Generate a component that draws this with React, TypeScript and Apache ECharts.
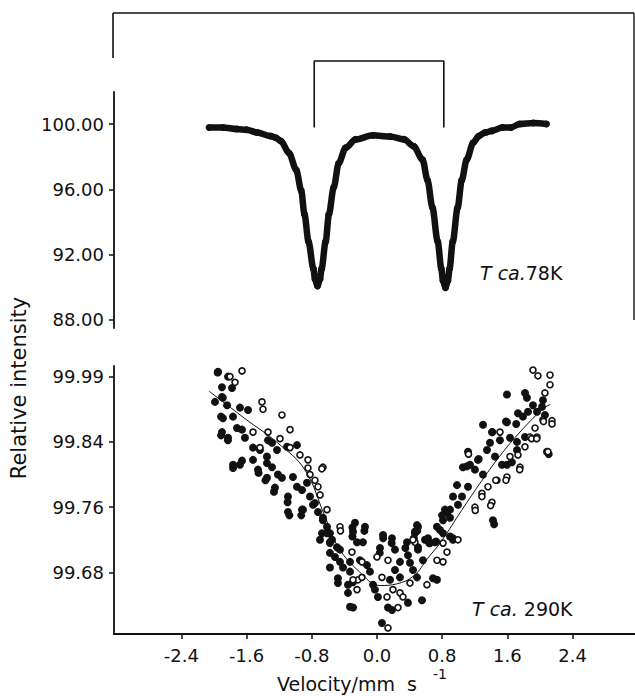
import React, { useEffect, useRef } from "react";
import * as echarts from "echarts";

// ---- axis ticks / labels ----
const xTickValues = [-2.4, -1.6, -0.8, 0, 0.8, 1.6, 2.4];
const topTickValues = [88, 92, 96, 100];
const topTickLabels = ["88.00", "92.00", "96.00", "100.00"];
const bottomTickValues = [99.68, 99.76, 99.84, 99.92];
const bottomTickLabels = ["99.68", "99.76", "99.84", "99.99"];

// ---- top spectrum (T ca. 78 K) ----
const topVelocity = [
  -2.06, -1.89, -1.72, -1.6, -1.47, -1.31, -1.24, -1.18, -1.08, -0.99, -0.93, -0.89, -0.84, -0.78,
  -0.76, -0.73, -0.7, -0.68, -0.63, -0.59, -0.53, -0.47, -0.385, -0.26, -0.05, 0.16, 0.33, 0.45,
  0.56, 0.62, 0.68, 0.745, 0.79, 0.81, 0.84, 0.87, 0.89, 0.93, 0.99, 1.04, 1.1, 1.18, 1.25, 1.33,
  1.41, 1.54, 1.645, 1.75, 1.92, 2.08,
];
const topIntensity = [
  99.79, 99.79, 99.69, 99.65, 99.48, 99.27, 99.16, 98.96, 98.23, 97.18, 95.93, 94.47, 92.8, 91.13,
  90.5, 90.08, 90.5, 91.13, 92.8, 94.47, 96.14, 97.6, 98.54, 99.06, 99.31, 99.23, 99.06, 98.64,
  97.81, 96.56, 94.89, 92.8, 91.13, 90.4, 89.98, 90.4, 91.13, 92.8, 94.89, 96.56, 97.81, 98.85,
  99.27, 99.48, 99.58, 99.79, 99.79, 100.0, 100.06, 100.0,
];
const bracketVelocity = [-0.77, -0.77, 0.82, 0.82];
const bracketIntensity = [99.79, 103.86, 103.86, 99.79];

// ---- bottom spectrum (T ca. 290 K) ----
const filledVelocity = [
  -1.926, -1.865, -1.951, -1.828, -1.902, -1.779, -1.988, -1.902, -1.84, -1.681, -1.583, -1.89,
  -1.767, -1.718, -1.656, -1.902, -1.828, -1.62, -1.521, -1.436, -1.35, -1.337, -1.288, -1.227,
  -1.104, -0.982, -1.767, -1.656, -1.521, -1.46, -1.35, -1.288, -1.215, -1.166, -1.35, -1.252,
  -1.031, -0.982, -0.92, -0.859, -1.092, -0.822, -0.761, -0.92, -1.092, -0.724, -0.663, -0.613,
  -0.675, -0.577, -0.577, -0.699, -0.908, -0.785, -0.663, -0.613, -0.552, -0.577, -0.515, -0.454,
  -0.454, -0.417, -0.577, -0.331, -0.479, -0.479, -0.356, -0.356, -0.294, -0.27, -0.294, -0.147,
  -0.245, -0.172, -0.209, -0.123, -0.086, -0.049, -0.025, 0.012, 0.074, 0.184, 0.037, 0.221, 0.368,
  0.38, 0.282, 0.221, 0.16, 0.282, 0.405, 0.442, 0.503, 0.466, 0.589, 0.65, 0.503, 0.564, 0.491,
  0.687, 0.736, 0.773, 0.81, 0.859, 0.896, 0.933, -0.331, -0.294, 0.135, 0.184, 0.061, 0.552, 0.38,
  -0.577, -0.491, -0.331, 1.595, 1.816, 1.84, 1.914, 2.037, 2.025, 1.963, 1.853, 1.791, 2.061,
  1.595, 1.73, 1.301, 1.411, 1.509, 1.632, 1.718, 1.816, 1.387, 1.35, 1.448, 1.534, 1.718, 1.117,
  1.239, 1.141, 1.055, 1.202, 1.301, 0.982, 1.117, 1.043, 0.933, 0.994, 0.896, 0.834, 0.798, 0.896,
  0.736, 0.81, 0.491, 0.466, 0.626, 1.423, 2.086, 0.503, 0.712, 0.933, 1.595, 1.656, -1.955, -1.892,
  -1.913, -1.913, -1.829, -1.766, -1.682, -1.453, -1.368, -1.264, -1.097, -1.075, -0.929, -0.301,
  -0.155, -0.301, 0.076, 0.18, 0.034, 0.348, 0.453, 0.494, 0.64, 0.725, 1.102, 1.248, 1.416, 1.583,
  1.708, 1.437, 2.107,
];
const filledIntensity = [
  99.94, 99.937, 99.926, 99.92, 99.907, 99.906, 99.889, 99.895, 99.885, 99.882, 99.879, 99.869,
  99.871, 99.857, 99.855, 99.852, 99.845, 99.845, 99.833, 99.83, 99.822, 99.842, 99.839, 99.83,
  99.834, 99.836, 99.812, 99.817, 99.818, 99.806, 99.814, 99.809, 99.8, 99.796, 99.796, 99.784,
  99.797, 99.785, 99.781, 99.79, 99.773, 99.773, 99.765, 99.757, 99.754, 99.754, 99.744, 99.736,
  99.728, 99.728, 99.717, 99.72, 99.757, 99.763, 99.747, 99.728, 99.72, 99.704, 99.699, 99.708,
  99.693, 99.686, 99.686, 99.681, 99.673, 99.667, 99.665, 99.655, 99.668, 99.741, 99.73, 99.736,
  99.717, 99.717, 99.695, 99.689, 99.681, 99.665, 99.659, 99.65, 99.726, 99.722, 99.71, 99.708,
  99.717, 99.701, 99.693, 99.683, 99.671, 99.674, 99.692, 99.683, 99.736, 99.728, 99.72, 99.716,
  99.708, 99.695, 99.674, 99.673, 99.671, 99.732, 99.744, 99.753, 99.724, 99.72, 99.638, 99.637,
  99.637, 99.634, 99.618, 99.646, 99.643, 99.716, 99.711, 99.693, 99.898, 99.9, 99.894, 99.885,
  99.891, 99.883, 99.877, 99.877, 99.871, 99.873, 99.864, 99.875, 99.861, 99.852, 99.842, 99.845,
  99.84, 99.846, 99.839, 99.83, 99.822, 99.812, 99.83, 99.828, 99.818, 99.812, 99.809, 99.806,
  99.8, 99.787, 99.785, 99.773, 99.773, 99.763, 99.757, 99.757, 99.75, 99.747, 99.736, 99.728,
  99.738, 99.73, 99.722, 99.744, 99.828, 99.711, 99.717, 99.722, 99.812, 99.815, 99.925, 99.894,
  99.871, 99.848, 99.842, 99.808, 99.812, 99.802, 99.793, 99.779, 99.766, 99.75, 99.75, 99.735,
  99.731, 99.724, 99.722, 99.716, 99.704, 99.71, 99.722, 99.731, 99.716, 99.718, 99.81, 99.819,
  99.852, 99.865, 99.862, 99.739, 99.825,
];
const openVelocity = [
  -1.656, -1.804, -1.742, -1.411, -1.399, -1.166, -1.067, -1.521, -1.337, -1.19, -1.067, -1.436,
  -0.945, -0.847, -0.847, -0.663, -0.822, -0.761, -0.724, -0.699, -0.613, -0.454, -0.307, -0.233,
  -0.184, -0.245, 0.0, 0.135, 0.061, 0.196, 0.282, 0.319, 0.405, 0.123, 0.258, 0.466, 0.613, 0.736,
  0.81, 0.81, 0.859, 0.135, -0.184, -0.294, 1.914, 1.975, 2.123, 2.123, 2.061, 2.037, 2.147, 1.939,
  1.509, 1.877, 1.963, 1.816, 1.632, 1.73, 2.098, 1.755, 1.595, 1.472, 1.362, 1.288, 1.411, 1.202,
  1.288, 0.994, 0.442, 1.123, 1.458, 1.583, 1.751, 1.395, 1.206, 2.148, 2.043, 1.897, 1.96, -0.677,
  -0.448,
];
const openIntensity = [
  99.927, 99.92, 99.913, 99.889, 99.88, 99.873, 99.855, 99.852, 99.852, 99.844, 99.833, 99.833,
  99.824, 99.818, 99.808, 99.809, 99.8, 99.793, 99.785, 99.775, 99.757, 99.736, 99.705, 99.671,
  99.674, 99.659, 99.699, 99.695, 99.674, 99.659, 99.655, 99.65, 99.667, 99.65, 99.637, 99.717,
  99.665, 99.695, 99.693, 99.716, 99.705, 99.612, 99.693, 99.671, 99.928, 99.921, 99.922, 99.91,
  99.9, 99.867, 99.866, 99.857, 99.852, 99.846, 99.846, 99.834, 99.822, 99.824, 99.828, 99.809,
  99.797, 99.793, 99.785, 99.777, 99.766, 99.76, 99.773, 99.72, 99.72, 99.825, 99.793, 99.793,
  99.806, 99.762, 99.756, 99.862, 99.865, 99.844, 99.844, 99.807, 99.731,
];
const fitVelocity = [
  -2.059, -1.599, -1.222, -0.887, -0.636, -0.469, -0.217, 0.034, 0.243, 0.453, 0.62, 0.788, 1.038,
  1.29, 1.541, 1.791, 2.043, 2.128,
];
const fitIntensity = [
  99.902, 99.867, 99.839, 99.806, 99.748, 99.71, 99.681, 99.664, 99.666, 99.676, 99.697, 99.718,
  99.756, 99.793, 99.827, 99.856, 99.881, 99.886,
];

const zip = (xs: number[], ys: number[]) => xs.map((x, i) => [x, ys[i]]);

const FONT = "'DejaVu Sans', sans-serif";
const INK = "#111111";
const X_MIN = -3.227;
const X_MAX = 3.166;

const labelFor = (values: number[], labels: string[]) => (v: number) => {
  const i = values.findIndex((t) => Math.abs(t - v) < 1e-6);
  return i >= 0 ? labels[i] : "";
};

export default function App() {
  const ref = useRef<HTMLDivElement>(null);

  useEffect(() => {
    if (!ref.current) return;
    const chart = echarts.init(ref.current, undefined, { renderer: "svg" });

    const axisLine = { show: true, onZero: false, lineStyle: { color: INK, width: 1.8 } };
    const tickStyle = { color: INK, width: 1.5 };
    const labelStyle = { color: INK, fontFamily: FONT, fontSize: 18 };

    const option: any = {
      animation: false,
      backgroundColor: "#ffffff",
      grid: [
        { left: 114, top: 92, width: 521, height: 236 },
        { left: 114, top: 366, width: 521, height: 268 },
      ],
      xAxis: [
        { gridIndex: 0, type: "value", min: X_MIN, max: X_MAX, show: false },
        {
          gridIndex: 1,
          type: "value",
          min: X_MIN,
          max: X_MAX,
          axisLine,
          axisTick: { show: true, customValues: xTickValues, length: 5, lineStyle: tickStyle },
          axisLabel: {
            ...labelStyle,
            customValues: xTickValues,
            margin: 12,
            formatter: (v: number) => {
              const s = v.toFixed(1);
              return s === "-0.0" ? "0.0" : s;
            },
          },
          splitLine: { show: false },
        },
      ],
      yAxis: [
        {
          gridIndex: 0,
          type: "value",
          min: 87.51,
          max: 101.96,
          axisLine,
          axisTick: { show: true, customValues: topTickValues, length: 5, lineStyle: tickStyle },
          axisLabel: {
            ...labelStyle,
            customValues: topTickValues,
            margin: 10,
            formatter: labelFor(topTickValues, topTickLabels),
          },
          splitLine: { show: false },
        },
        {
          gridIndex: 1,
          type: "value",
          min: 99.6046,
          max: 99.933,
          axisLine,
          axisTick: { show: true, customValues: bottomTickValues, length: 5, lineStyle: tickStyle },
          axisLabel: {
            ...labelStyle,
            customValues: bottomTickValues,
            margin: 10,
            formatter: labelFor(bottomTickValues, bottomTickLabels),
          },
          splitLine: { show: false },
        },
      ],
      series: [
        {
          type: "line",
          xAxisIndex: 0,
          yAxisIndex: 0,
          data: zip(topVelocity, topIntensity),
          smooth: 0.3,
          smoothMonotone: "x",
          symbol: "circle",
          symbolSize: 7,
          itemStyle: { color: INK, opacity: 1 },
          lineStyle: { color: INK, width: 6.5 },
          silent: true,
        },
        {
          type: "line",
          xAxisIndex: 0,
          yAxisIndex: 0,
          data: zip(bracketVelocity, bracketIntensity),
          clip: false,
          symbol: "none",
          lineStyle: { color: INK, width: 1.6 },
          silent: true,
        },
        {
          type: "line",
          xAxisIndex: 1,
          yAxisIndex: 1,
          data: zip(fitVelocity, fitIntensity),
          smooth: 0.4,
          symbol: "none",
          lineStyle: { color: INK, width: 1 },
          silent: true,
        },
        {
          type: "scatter",
          xAxisIndex: 1,
          yAxisIndex: 1,
          data: zip(filledVelocity, filledIntensity),
          symbol: "circle",
          symbolSize: 8,
          itemStyle: { color: INK, opacity: 1 },
          silent: true,
        },
        {
          type: "scatter",
          xAxisIndex: 1,
          yAxisIndex: 1,
          data: zip(openVelocity, openIntensity),
          symbol: "circle",
          symbolSize: 6,
          itemStyle: { color: "#ffffff", borderColor: INK, borderWidth: 1.6, opacity: 1 },
          silent: true,
        },
      ],
      graphic: [
        { type: "line", shape: { x1: 113, y1: 13, x2: 634, y2: 13 }, style: { stroke: INK, lineWidth: 1.6 } },
        { type: "line", shape: { x1: 113, y1: 13, x2: 113, y2: 58 }, style: { stroke: INK, lineWidth: 1.6 } },
        { type: "line", shape: { x1: 634, y1: 13, x2: 634, y2: 320 }, style: { stroke: INK, lineWidth: 1.4 } },
        {
          type: "text",
          x: 19,
          y: 388,
          rotation: Math.PI / 2,
          style: {
            text: "Relative intensity",
            fontFamily: FONT,
            fontSize: 21,
            fill: INK,
            align: "center",
            verticalAlign: "middle",
            textAlign: "center",
            textVerticalAlign: "middle",
          },
        },
        {
          type: "text",
          x: 480,
          y: 273,
          style: {
            text: "{i|T ca.}78K",
            fontFamily: FONT,
            fontSize: 19,
            fill: INK,
            align: "left",
            verticalAlign: "middle",
            rich: { i: { fontStyle: "italic", fontFamily: FONT, fontSize: 19, fill: INK } },
          },
        },
        {
          type: "text",
          x: 472,
          y: 609,
          style: {
            text: "{i|T ca.} 290K",
            fontFamily: FONT,
            fontSize: 19,
            fill: INK,
            align: "left",
            verticalAlign: "middle",
            rich: { i: { fontStyle: "italic", fontFamily: FONT, fontSize: 19, fill: INK } },
          },
        },
        {
          type: "text",
          x: 277,
          y: 684,
          style: {
            text: "Velocity/mm  s",
            fontFamily: FONT,
            fontSize: 19,
            fill: INK,
            align: "left",
            verticalAlign: "middle",
            textAlign: "left",
            textVerticalAlign: "middle",
          },
        },
        {
          type: "text",
          x: 433,
          y: 674,
          style: {
            text: "-1",
            fontFamily: FONT,
            fontSize: 14,
            fill: INK,
            align: "left",
            verticalAlign: "middle",
            textAlign: "left",
            textVerticalAlign: "middle",
          },
        },
      ],
    };

    chart.setOption(option);
    return () => chart.dispose();
  }, []);

  return (
    <div
      ref={ref}
      style={{ position: "fixed", left: 0, top: 0, width: 635, height: 696, background: "#ffffff" }}
    />
  );
}
